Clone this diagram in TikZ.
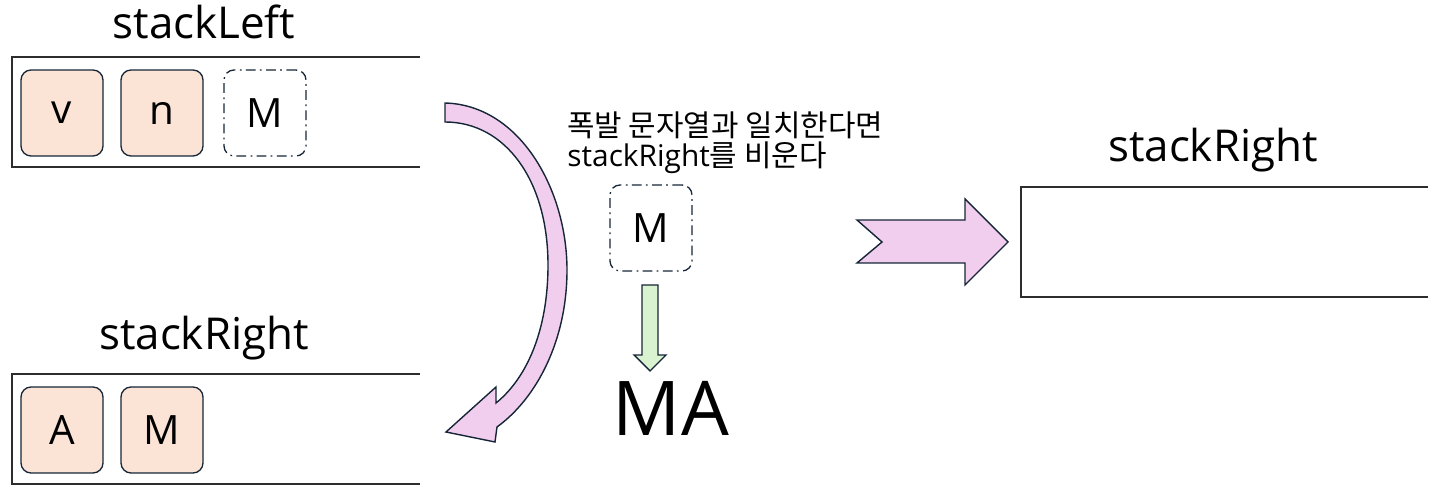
\documentclass[tikz,border=0pt]{standalone}
\usepackage{fontspec}
\usepackage{xcolor}
\usepackage{tikz}
\setmainfont{Open Sans}
\newfontfamily\kofont{Noto Sans CJK KR}
\definecolor{cellpeach}{RGB}{251, 227, 214}
\definecolor{arrowpink}{RGB}{241, 206, 238}
\definecolor{arrowgreen}{RGB}{217, 242, 208}
\definecolor{edgeblue}{RGB}{22, 38, 56}
\definecolor{framegray}{RGB}{45, 45, 45}

\begin{document}
\begin{tikzpicture}[
    x=0.02cm, y=-0.02cm,
    cell/.style={rectangle, draw=edgeblue, line width=0.75pt, rounded corners=0.2cm, minimum width=1.64cm, minimum height=1.72cm, align=center, fill=cellpeach, font=\fontsize{23}{26}\selectfont},
    ghost/.style={cell, fill=none, dash pattern=on 5.5pt off 2.5pt on 1pt off 2.5pt},
    title/.style={font=\fontsize{25}{28}\selectfont},
    note/.style={inner sep=0pt, align=left, font=\fontsize{17}{17.5}\selectfont},
    frame/.style={draw=framegray, line width=0.8pt},
    bigarrow/.style={draw=edgeblue, line width=0.8pt, fill=arrowpink, line join=miter}
]
    \useasboundingbox (0,0) rectangle (1437,502);

    % stackLeft
    \node[title] (left_title) at (204,22) {stackLeft};
    \node[cell] (left_v) at (62,113) {v};
    \node[cell] (left_n) at (162,113) {n};
    \node[ghost] (left_m) at (265,113) {M};
    \draw[frame] (420,57) -| (12,167) -- (420,167);

    % stackRight (before)
    \node[title] (right_title) at (204,338) {stackRight};
    \node[cell] (right_a) at (62,430) {A};
    \node[cell] (right_m) at (162,430) {M};
    \draw[frame] (420,374) -| (12,484) -- (420,484);

    % move M over
    \draw[bigarrow] (445,103) .. controls (520,105) and (567,190) .. (567,270)
        .. controls (567,340) and (537,398) .. (497,427) -- (495,442) -- (446,432)
        -- (496,387) -- (496,403) .. controls (527,378) and (548,330) .. (548,265)
        .. controls (548,180) and (505,122) .. (445,122) -- cycle;

    % match check
    \node[note, anchor=north west] (rule_note) at (567,111) {{\kofont 폭발 문자열과 일치한다면}\\stackRight{\kofont 를 비운다}};
    \node[ghost] (check_m) at (651,228) {M};
    \node[font=\fontsize{43}{48}\selectfont] (result) at (671,408) {MA};
    \draw[draw=edgeblue, line width=0.8pt, fill=arrowgreen] (642,285) -- (658,285) -- (658,355)
        -- (666,355) -- (650,371) -- (634,355) -- (642,355) -- cycle;

    % stackRight (after)
    \draw[bigarrow] (857,220) -- (965,220) -- (965,199) -- (1008,242) -- (965,285)
        -- (965,263) -- (857,263) -- (882,242) -- cycle;
    \node[title] (after_title) at (1213,150) {stackRight};
    \draw[frame] (1428,187) -| (1021,297) -- (1428,297);

\end{tikzpicture}
\end{document}
